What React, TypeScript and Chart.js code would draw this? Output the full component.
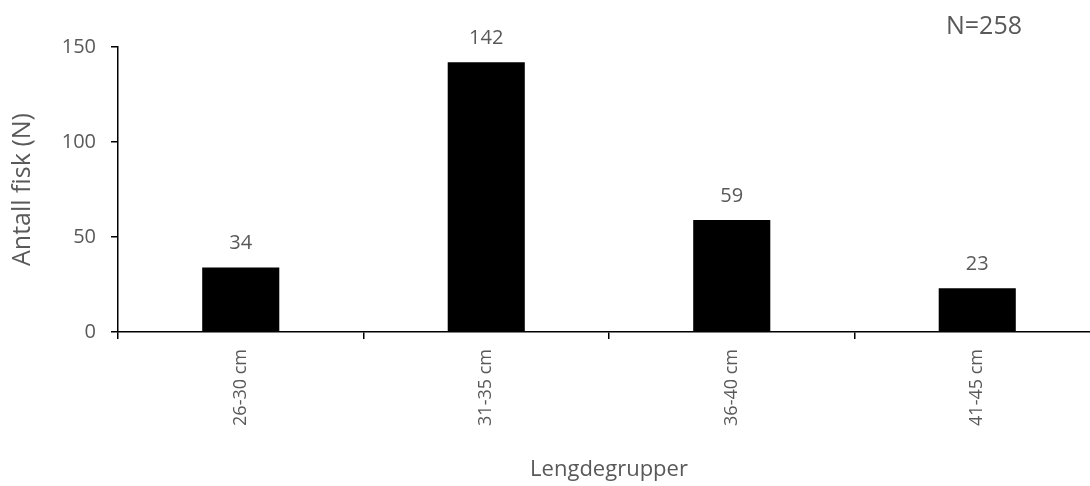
import React, { useEffect, useRef } from "react";
import { Chart, registerables } from "chart.js";

Chart.register(...registerables);

const categories = ["26-30 cm", "31-35 cm", "36-40 cm", "41-45 cm"];
const counts = [34, 142, 59, 23];
const yTicks = [0, 50, 100, 150];
const totalLabel = "N=258";
const xTitle = "Lengdegrupper";
const yTitle = "Antall fisk (N)";

const FONT = "'Open Sans', 'DejaVu Sans', sans-serif";
const TEXT = "#595959";

export default function App() {
  const ref = useRef<HTMLCanvasElement | null>(null);

  useEffect(() => {
    if (!ref.current) return;
    const labelPlugin = {
      id: "valueLabels",
      afterDatasetsDraw(chart: any) {
        const ctx = chart.ctx;
        ctx.save();
        ctx.fillStyle = TEXT;
        ctx.font = `20px ${FONT}`;
        ctx.textAlign = "center";
        ctx.textBaseline = "alphabetic";
        const meta = chart.getDatasetMeta(0);
        meta.data.forEach((bar: any, i: number) => {
          ctx.fillText(String(counts[i]), bar.x, bar.y - 18);
        });
        ctx.font = `25px ${FONT}`;
        ctx.fillText(totalLabel, chart.chartArea.right - 116, 34);
        ctx.restore();
      },
    };

    const chart = new Chart(ref.current, {
      type: "bar",
      data: {
        labels: categories,
        datasets: [
          {
            data: counts,
            backgroundColor: "#000000",
            borderWidth: 0,
            categoryPercentage: 1,
            barPercentage: 0.314,
          },
        ],
      },
      options: {
        animation: false,
        responsive: false,
        maintainAspectRatio: false,
        layout: { padding: { top: 47, left: 0, right: 0, bottom: 0 } },
        plugins: {
          legend: { display: false },
          tooltip: { enabled: false },
        },
        scales: {
          x: {
            grid: {
              display: true,
              offset: true,
              drawOnChartArea: false,
              drawTicks: true,
              tickLength: 7,
              color: "#000000",
              lineWidth: 1.5,
            },
            border: { display: true, color: "#000000", width: 1.5 },
            ticks: {
              color: TEXT,
              font: { family: FONT, size: 18 },
              minRotation: 90,
              maxRotation: 90,
              padding: 10,
            },
            title: {
              display: true,
              text: xTitle,
              color: TEXT,
              font: { family: FONT, size: 22 },
              padding: { top: 0, bottom: 3 },
            },
            afterFit(scale: any) {
              scale.height = 154;
            },
          },
          y: {
            min: 0,
            max: 150,
            afterBuildTicks(scale: any) {
              scale.ticks = yTicks.map((v) => ({ value: v }));
            },
            grid: {
              display: true,
              drawOnChartArea: false,
              drawTicks: true,
              tickLength: 7,
              color: "#000000",
              lineWidth: 1.5,
            },
            border: { display: true, color: "#000000", width: 1.5 },
            ticks: {
              color: TEXT,
              font: { family: FONT, size: 20 },
              padding: 15,
            },
            title: {
              display: true,
              text: yTitle,
              color: TEXT,
              font: { family: FONT, size: 25 },
              padding: { top: 8, bottom: 0 },
            },
            afterFit(scale: any) {
              scale.width = 118;
            },
          },
        },
      },
      plugins: [labelPlugin],
    });
    return () => chart.destroy();
  }, []);

  return (
    <div
      style={{
        position: "fixed",
        left: 0,
        top: 0,
        width: 1090,
        height: 486,
        overflow: "hidden",
        background: "#ffffff",
      }}
    >
      <canvas ref={ref} width={1100} height={486} style={{ display: "block" }} />
    </div>
  );
}
